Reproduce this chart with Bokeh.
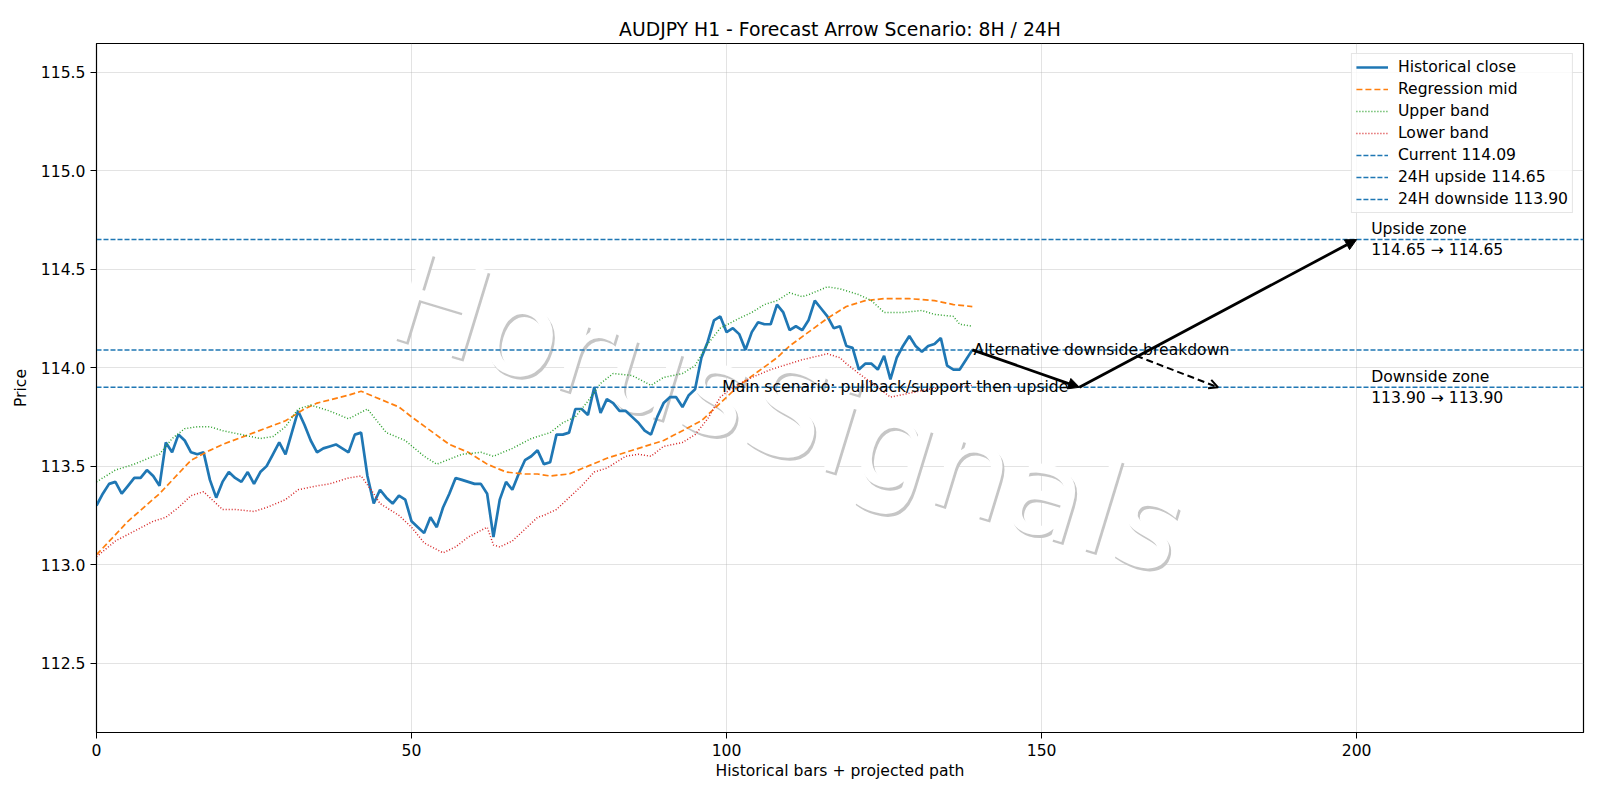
from bokeh.plotting import figure
from bokeh.models import Arrow, NormalHead, OpenHead, Legend, LegendItem, FixedTicker
from bokeh.core.properties import value
from bokeh.embed import file_html
from bokeh.resources import INLINE

# ---------------- data ----------------
close = [
    113.30, 113.36, 113.41, 113.42, 113.36, 113.40, 113.44, 113.44, 113.48, 113.45,
    113.40, 113.62, 113.57, 113.66, 113.63, 113.57, 113.56, 113.57, 113.43, 113.34,
    113.42, 113.47, 113.44, 113.42, 113.47, 113.41, 113.47, 113.50, 113.56, 113.62,
    113.56, 113.67, 113.78, 113.71, 113.63, 113.57,
    113.59, 113.60, 113.61, 113.59, 113.57, 113.66, 113.67, 113.45, 113.31, 113.38,
    113.34, 113.31, 113.35, 113.33, 113.22, 113.19, 113.16, 113.24, 113.19, 113.29,
    113.36, 113.44, 113.43, 113.42, 113.41, 113.41, 113.36, 113.14, 113.33, 113.42,
    113.38, 113.46, 113.53, 113.55,
    113.58, 113.51, 113.52, 113.66, 113.66, 113.67, 113.79, 113.79, 113.76, 113.90,
    113.77, 113.84, 113.82, 113.78, 113.78, 113.75, 113.72, 113.68, 113.66, 113.75,
    113.82, 113.85, 113.85, 113.80, 113.86, 113.89, 114.05, 114.13, 114.24, 114.26,
    114.18, 114.20, 114.17, 114.09,
    114.18, 114.23, 114.22, 114.22, 114.32, 114.28, 114.19, 114.21, 114.19, 114.24,
    114.34, 114.30, 114.26, 114.20, 114.21, 114.11, 114.10, 113.99, 114.02, 114.02,
    113.99, 114.06, 113.94, 114.05, 114.11, 114.16, 114.11, 114.08, 114.11, 114.12,
    114.15, 114.01, 113.99, 113.99, 114.04, 114.09,
]
bars = list(range(len(close)))

mid_x = [0, 5, 10, 15, 18, 20, 25, 30, 33, 35, 40, 42, 45, 48, 50, 53, 56, 59, 62, 65,
         68, 70, 72, 75, 78, 81, 84, 87, 90, 93, 96, 99, 102, 105, 108, 110, 113, 116, 119, 122,
         125, 129, 133, 136, 139]
mid_y = [113.05, 113.22, 113.36, 113.53, 113.58, 113.61, 113.67, 113.73, 113.79, 113.82,
         113.86, 113.88, 113.84, 113.80, 113.75, 113.68, 113.61, 113.57, 113.51, 113.47,
         113.46, 113.46, 113.45, 113.46, 113.50, 113.54, 113.57, 113.60, 113.63, 113.68,
         113.73, 113.82, 113.91, 113.98, 114.05, 114.11, 114.18, 114.25, 114.31, 114.34,
         114.35, 114.35, 114.34, 114.32, 114.31]

up_x = [0, 3, 6, 9, 10, 12, 14, 16, 18, 20, 23, 26, 28, 30, 32, 34, 37, 40, 43, 46,
        49, 52, 54, 58, 61, 63, 66, 69, 72, 74, 76, 78, 80, 82, 85, 88, 90, 93, 95, 97,
        99, 102, 104, 106, 108, 110, 112, 113, 116, 118, 121, 123, 125, 128, 131, 133, 136, 137, 139]
up_y = [113.42, 113.48, 113.51, 113.55, 113.56, 113.64, 113.69, 113.70, 113.70, 113.68,
        113.66, 113.64, 113.65, 113.70, 113.79, 113.81, 113.78, 113.74, 113.79, 113.67,
        113.63, 113.55, 113.51, 113.56, 113.57, 113.55, 113.59, 113.64, 113.67, 113.72,
        113.75, 113.83, 113.92, 113.97, 113.96, 113.91, 113.95, 113.97, 114.01, 114.12,
        114.20, 114.25, 114.28, 114.32, 114.34, 114.38, 114.36, 114.37, 114.41, 114.40,
        114.37, 114.34, 114.28, 114.28, 114.29, 114.27, 114.26, 114.22, 114.21]

lo_x = [0, 3, 6, 9, 11, 13, 15, 17, 18, 20, 22, 25, 27, 30, 32, 35, 37, 40, 42, 44,
        45, 48, 50, 52, 55, 57, 59, 62, 63, 64, 66, 68, 70, 71, 73, 75, 77, 79, 81, 84,
        86, 88, 90, 93, 95, 97, 99, 101, 104, 107, 109, 112, 116, 118, 119, 121, 124, 126, 129, 132,
        134, 137, 139]
lo_y = [113.04, 113.12, 113.17, 113.22, 113.24, 113.29, 113.35, 113.37, 113.34, 113.28,
        113.28, 113.27, 113.29, 113.33, 113.38, 113.40, 113.41, 113.44, 113.45, 113.36,
        113.31, 113.25, 113.19, 113.11, 113.06, 113.09, 113.14, 113.19, 113.10, 113.09,
        113.12, 113.18, 113.24, 113.25, 113.28, 113.34, 113.40, 113.47, 113.49, 113.55,
        113.56, 113.55, 113.60, 113.62, 113.66, 113.74, 113.85, 113.90, 113.95, 113.99,
        114.01, 114.04, 114.07, 114.05, 114.02, 113.97, 113.90, 113.85, 113.87, 113.89,
        113.90, 113.90, 113.91]

levels = [114.09, 114.65, 113.90]
level_labels = ["Current 114.09", "24H upside 114.65", "24H downside 113.90"]

x_limits = [0, 236]
y_limits = [112.148, 115.645]
x_ticks = [0, 50, 100, 150, 200]
y_ticks = [112.5, 113.0, 113.5, 114.0, 114.5, 115.0, 115.5]
y_tick_labels = ["112.5", "113.0", "113.5", "114.0", "114.5", "115.0", "115.5"]

# projected scenario path: current -> pullback -> upside target
path_x = [139, 156, 200]
path_y = [114.09, 113.90, 114.65]
alt_x = [165, 178]
alt_y = [114.06, 113.90]

note_x = [99.3, 139.2]
note_y = [113.90, 114.09]
note_text = ["Main scenario: pullback/support then upside", "Alternative downside breakdown"]

zone_x = [202.3, 202.3]
zone_y = [114.65, 113.90]
zone_text = ["Upside zone\n114.65 \u2192 114.65", "Downside zone\n113.90 \u2192 113.90"]

wm_x = [109.8]
wm_y = [113.77]
wm_text = ["HorusSignals"]

FONT = "DejaVu Sans"
FS = "15.6px"
BLUE, ORANGE, GREEN, RED = "#1f77b4", "#ff7f0e", "#2ca02c", "#d62728"

p = figure(width=1600, height=800, x_range=tuple(x_limits), y_range=tuple(y_limits),
           output_backend="svg", toolbar_location=None,
           min_border_left=96, min_border_right=17, min_border_top=43, min_border_bottom=68,
           title="AUDJPY H1 - Forecast Arrow Scenario: 8H / 24H")
p.background_fill_color = "white"
p.border_fill_color = "white"
p.outline_line_color = "black"
p.outline_line_width = 1.2
p.title.align = "center"
p.title.text_font = FONT
p.title.text_font_size = "18.8px"
p.title.text_font_style = "normal"
p.title.text_color = "black"
p.title.standoff = 8

# watermark (shadow + white face)
p.text(x=wm_x, y=wm_y, text=wm_text, angle=-17, angle_units="deg",
       text_font=value(FONT), text_font_size="126px", text_color="#c6c6c6",
       text_align="center", text_baseline="middle", x_offset=2, y_offset=3)
p.text(x=wm_x, y=wm_y, text=wm_text, angle=-17, angle_units="deg",
       text_font=value(FONT), text_font_size="126px", text_color="white",
       text_align="center", text_baseline="middle")

r_close = p.line(bars, close, line_color=BLUE, line_width=2.7)
r_mid = p.line(mid_x, mid_y, line_color=ORANGE, line_width=1.7, line_dash="6 3")
r_up = p.line(up_x, up_y, line_color=GREEN, line_width=1.5, line_dash="1 2")
r_lo = p.line(lo_x, lo_y, line_color=RED, line_width=1.5, line_dash="1 2")
r_levels = []
for lvl in levels:
    r_levels.append(p.line(x_limits, [lvl, lvl], line_color=BLUE, line_width=1.5,
                           line_dash="5 2"))

# arrows
p.add_layout(Arrow(end=NormalHead(size=11, fill_color="black", line_color="black"),
                   x_start=path_x[0], y_start=path_y[0], x_end=path_x[1], y_end=path_y[1],
                   line_color="black", line_width=2.8))
p.add_layout(Arrow(end=NormalHead(size=11, fill_color="black", line_color="black"),
                   x_start=path_x[1], y_start=path_y[1], x_end=path_x[2], y_end=path_y[2],
                   line_color="black", line_width=2.8))
p.add_layout(Arrow(end=OpenHead(size=9, line_color="black", line_width=2),
                   x_start=alt_x[0], y_start=alt_y[0], x_end=alt_x[1], y_end=alt_y[1],
                   line_color="black", line_width=2, line_dash="7 4"))

p.text(x=note_x, y=note_y, text=note_text, text_font=value(FONT), text_font_size=FS,
       text_color="black", text_align="left", text_baseline="alphabetic")
p.text(x=zone_x, y=zone_y, text=zone_text, text_font=value(FONT), text_font_size=FS,
       text_color="black", text_align="left", text_baseline="middle", text_line_height=1.2)

# axes
p.xaxis.ticker = FixedTicker(ticks=x_ticks)
p.yaxis.ticker = FixedTicker(ticks=y_ticks)
p.yaxis.major_label_overrides = {t: l for t, l in zip(y_ticks, y_tick_labels)}
for ax in (p.xaxis, p.yaxis):
    ax.major_label_text_font = FONT
    ax.major_label_text_font_size = FS
    ax.major_label_text_color = "black"
    ax.axis_label_text_font = FONT
    ax.axis_label_text_font_size = FS
    ax.axis_label_text_font_style = "normal"
    ax.axis_label_text_color = "black"
    ax.minor_tick_line_color = None
    ax.major_tick_in = 0
    ax.major_tick_out = 6
    ax.major_tick_line_color = "black"
    ax.axis_line_color = "black"
    ax.major_label_standoff = 5
p.xaxis.axis_label = "Historical bars + projected path"
p.yaxis.axis_label = "Price"
p.xaxis.axis_label_standoff = 3
p.yaxis.axis_label_standoff = 8
p.grid.grid_line_color = "#b0b0b0"
p.grid.grid_line_alpha = 0.35
p.grid.grid_line_width = 1

legend = Legend(items=[
    LegendItem(label="Historical close", renderers=[r_close]),
    LegendItem(label="Regression mid", renderers=[r_mid]),
    LegendItem(label="Upper band", renderers=[r_up]),
    LegendItem(label="Lower band", renderers=[r_lo]),
] + [LegendItem(label=lab, renderers=[r]) for lab, r in zip(level_labels, r_levels)],
    location="top_right")
legend.label_text_font = FONT
legend.label_text_font_size = FS
legend.label_text_color = "black"
legend.border_line_color = "#cccccc"
legend.background_fill_alpha = 0.8
legend.glyph_width = 32
legend.glyph_height = 18
legend.label_height = 18
legend.spacing = 4
legend.padding = 4
legend.margin = 10
legend.label_standoff = 10
p.add_layout(legend)

open("out.html", "w").write(file_html(p, INLINE))
